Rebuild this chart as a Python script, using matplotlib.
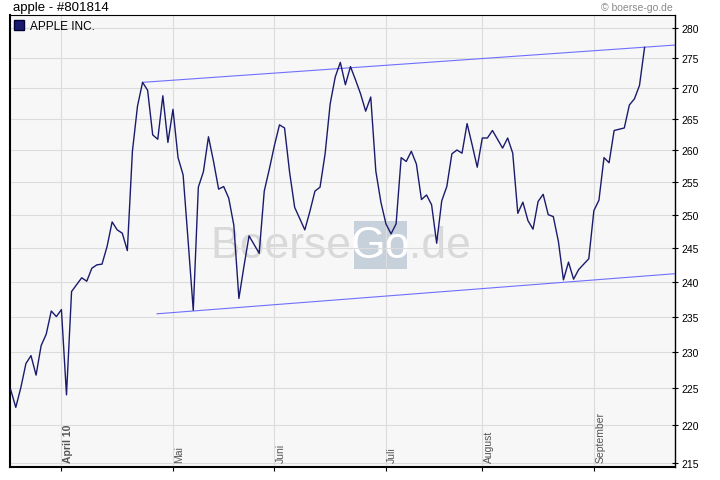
import matplotlib.pyplot as plt
import numpy as np
from matplotlib.ticker import FixedLocator, NullLocator, FixedFormatter
from matplotlib.lines import Line2D
from matplotlib.patches import Rectangle

plt.rcParams['font.family'] = ['Liberation Sans', 'DejaVu Sans']

# Schlusskurse, ein Wert pro Handelstag
close = [224.8, 222.4, 225.1, 228.4, 229.5, 226.8, 230.9, 232.5, 235.8, 235.0,
         236.0, 224.1, 238.6, 239.6, 240.6, 240.1, 242.0, 242.5, 242.6, 245.2,
         248.9, 247.7, 247.2, 244.6, 259.8, 267.0, 270.9, 269.6, 262.4, 261.7,
         268.7, 261.2, 266.5, 258.8, 256.1, 245.9, 235.9, 254.2, 256.6, 262.1,
         258.2, 253.9, 254.3, 252.5, 248.4, 237.6, 242.3, 246.8, 245.5, 244.2,
         253.6, 257.0, 260.7, 264.0, 263.5, 256.5, 251.1, 249.4, 247.7, 250.5,
         253.6, 254.2, 259.4, 267.4, 271.8, 274.2, 270.5, 273.5, 271.3, 269.0,
         266.2, 268.5, 256.7, 251.9, 248.6, 247.1, 248.6, 258.8, 258.2, 259.8,
         257.8, 252.3, 253.0, 251.5, 245.7, 252.1, 254.3, 259.4, 260.0, 259.5,
         264.2, 260.8, 257.3, 261.9, 261.9, 263.1, 261.7, 260.3, 261.9, 259.5,
         250.2, 251.9, 249.1, 247.8, 252.0, 253.1, 250.0, 249.7, 246.0, 240.3,
         242.9, 240.4, 241.8, 242.6, 243.4, 250.6, 252.2, 258.8, 258.0, 263.1,
         263.3, 263.5, 267.2, 268.2, 270.4, 276.7]

# Monatsanfaenge (Index des Handelstags)
month_pos = [10, 32, 52, 74, 93, 115]
month_labels = ['April 10', 'Mai', 'Juni', 'Juli', 'August', 'September']

y_ticks = list(range(215, 281, 5))

# Trendkanal
upper_x = [26, 131]
upper_y = [270.9, 277.1]
lower_x = [28.86, 131]
lower_y = [235.4, 241.2]

x = np.arange(len(close))

fig = plt.figure(figsize=(7.2, 4.81), dpi=100)
ax = fig.add_axes([10 / 720, 13 / 481, 665 / 720, 452 / 481])
ax.set_facecolor('#f7f7f7')

ax.plot(x, close, color='#1b1b6e', lw=1.0, zorder=3)
ax.plot(upper_x, upper_y, color='#6f6fff', lw=0.8, zorder=2)
ax.plot(lower_x, lower_y, color='#6f6fff', lw=0.8, zorder=2)

# Achsen
ax.set_yscale('log')
ax.set_ylim(214.5, 282.2)
ax.set_xlim(-0.14, 131)
ax.yaxis.set_major_locator(FixedLocator(y_ticks))
ax.yaxis.set_minor_locator(NullLocator())
ax.yaxis.set_major_formatter(FixedFormatter([str(v) for v in y_ticks]))
ax.yaxis.tick_right()
ax.tick_params(axis='y', direction='inout', length=5, width=0.8, labelsize=7.5, pad=2)
ax.set_xticks(month_pos)
ax.set_xticklabels([])
ax.tick_params(axis='x', direction='out', length=3, width=0.8)
ax.grid(True, color='#dcdcdc', lw=0.8)
ax.set_axisbelow(True)

for s in ['left', 'bottom']:
    ax.spines[s].set_linewidth(1.5)
ax.spines['right'].set_linewidth(1.0)
ax.spines['top'].set_linewidth(0.8)

# Monatsbeschriftung innerhalb des Charts
for p, lab in zip(month_pos, month_labels):
    ax.text(p + 0.25, 0.012, lab, rotation=90, ha='left', va='bottom',
            transform=ax.get_xaxis_transform(), fontsize=7.5, color='#555555',
            fontweight='bold' if lab.startswith('April') else 'normal')

# Wasserzeichen
ax.add_patch(Rectangle((0.517, 0.438), 0.080, 0.106, transform=ax.transAxes,
                       color='#c7d1db', zorder=0.3, lw=0))
ax.text(0.514, 0.4646, 'Boerse', transform=ax.transAxes, ha='right', va='baseline',
        fontsize=32, color='#d9d9d9', zorder=0.3)
ax.text(0.557, 0.4646, 'Go', transform=ax.transAxes, ha='center', va='baseline',
        fontsize=32, color='white', zorder=0.3)
ax.text(0.600, 0.4646, '.de', transform=ax.transAxes, ha='left', va='baseline',
        fontsize=32, color='#d9d9d9', zorder=0.3)

# Legende
handle = Line2D([], [], marker='s', color='none', markerfacecolor='#1b1b6e',
                markeredgecolor='#000033', markersize=7)
ax.legend([handle], ['APPLE INC.'], loc='upper left', bbox_to_anchor=(0, 1),
          frameon=False, fontsize=8.5, handlelength=0.7, handletextpad=0.6,
          borderaxespad=0.2, borderpad=0.2)

fig.text(13 / 720, 1 - 8 / 481, 'apple - #801814', fontsize=9.5, ha='left', va='center')
fig.text(673 / 720, 1 - 8 / 481, '© boerse-go.de', fontsize=7.5, color='#8a8a8a',
         ha='right', va='center')

fig.savefig('out.png', dpi=100)
